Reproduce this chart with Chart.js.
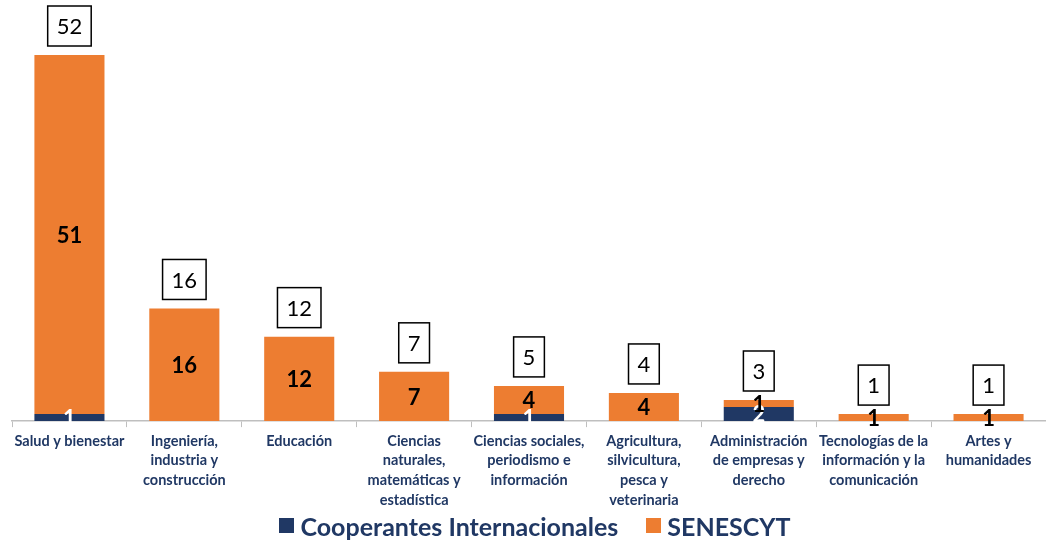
<!DOCTYPE html>
<html>
<head>
<meta charset="utf-8">
<script src="https://cdn.jsdelivr.net/npm/chart.js@4"></script>
<style>
  html, body { margin: 0; padding: 0; background: #fff; }
  #wrap { width: 1046px; height: 514px; }
  #legend { height: 31px; margin-top: -4px; display: flex; justify-content: center; align-items: center;
            font: bold 25px Lato; color: #203864; padding-left: 24px; box-sizing: border-box; }
  #legend span.item { display: flex; align-items: center; margin: 0 14px; }
  #legend span.box { width: 15px; height: 15px; margin-right: 6px; display: inline-block; }
</style>
</head>
<body>
<div id="wrap"><canvas id="myChart"></canvas></div>
<div id="legend"></div>
<script>
const categories = [
    "Salud y bienestar",
    ["Ingeniería,", "industria y", "construcción"],
    "Educación",
    ["Ciencias", "naturales,", "matemáticas y", "estadística"],
    ["Ciencias sociales,", "periodismo e", "información"],
    ["Agricultura,", "silvicultura,", "pesca y", "veterinaria"],
    ["Administración", "de empresas y", "derecho"],
    ["Tecnologías de la", "información y la", "comunicación"],
    ["Artes y", "humanidades"]
]
const cooperantes = [1, 0, 0, 0, 1, 0, 2, 0, 0]
const senescyt = [51, 16, 12, 7, 4, 4, 1, 1, 1]

const navy = "#203864"
const orange = "#ED7D31"

// labels inside the bars + boxed totals on top
const labelPlugin = {
    id: "labels",
    afterDatasetsDraw(chart) {
        const ctx = chart.ctx
        const y = chart.scales.y
        ctx.save()
        ctx.textAlign = "center"
        ctx.textBaseline = "middle"
        ctx.font = "bold 22px Lato"
        chart.data.datasets.forEach((ds, i) => {
            chart.getDatasetMeta(i).data.forEach((bar, j) => {
                if (!ds.data[j]) return
                ctx.fillStyle = i == 0 ? "#ffffff" : "#000000"
                ctx.fillText(ds.data[j], bar.x, (bar.y + bar.base) / 2 + 1)
            })
        })
        ctx.font = "22px Lato"
        chart.getDatasetMeta(1).data.forEach((bar, j) => {
            const total = cooperantes[j] + senescyt[j]
            const top = y.getPixelForValue(total)
            const w = ctx.measureText(total).width + 18
            const h = 40
            const bottom = top - 9
            ctx.fillStyle = "#fff"
            ctx.fillRect(bar.x - w / 2, bottom - h, w, h)
            ctx.lineWidth = 1.5
            ctx.strokeStyle = "#000"
            ctx.strokeRect(bar.x - w / 2, bottom - h, w, h)
            ctx.fillStyle = "#000"
            ctx.fillText(total, bar.x, bottom - h / 2 + 1)
        })
        ctx.restore()
    }
}

const chart = new Chart(document.getElementById("myChart"), {
    type: "bar",
    data: {
        labels: categories,
        datasets: [
            {
                label: "Cooperantes Internacionales",
                data: cooperantes,
                backgroundColor: navy,
                barPercentage: 0.61,
                categoryPercentage: 1
            }, {
                label: "SENESCYT",
                data: senescyt,
                backgroundColor: orange,
                barPercentage: 0.61,
                categoryPercentage: 1
            }
        ]
    },
    options: {
        responsive: true,
        maintainAspectRatio: false,
        animation: false,
        layout: { padding: { top: 55, left: 12, right: 0, bottom: 0 } },
        scales: {
            x: {
                stacked: true,
                grid: { offset: true, drawOnChartArea: false, tickLength: 6, color: "#bfbfbf" },
                border: { color: "#bfbfbf", width: 1.5 },
                ticks: {
                    maxRotation: 0,
                    autoSkip: false,
                    padding: 4,
                    color: navy,
                    font: { family: "Lato", size: 14.5, weight: "bold", lineHeight: 1.36 }
                }
            },
            y: {
                stacked: true,
                display: false,
                min: 0,
                max: 52
            }
        },
        plugins: {
            tooltip: { enabled: false },
            legend: { display: false }
        }
    },
    plugins: [labelPlugin]
})

// legend as html under the canvas
document.getElementById("legend").innerHTML = chart.data.datasets.map(ds =>
    `<span class="item"><span class="box" style="background:${ds.backgroundColor}"></span>${ds.label}</span>`
).join("")
</script>
</body>
</html>
